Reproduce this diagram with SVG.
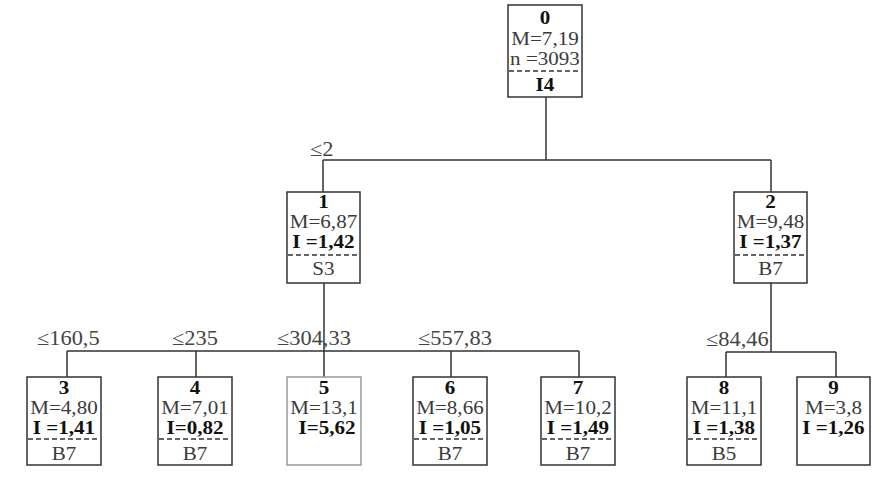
<svg xmlns="http://www.w3.org/2000/svg" width="883" height="480" viewBox="0 0 883 480">
<style>
.box{fill:#fff;stroke:#333;stroke-width:1.5}
.light{stroke:#999}
.dash{stroke:#333;stroke-width:1.3;stroke-dasharray:5,3}
.t{font-family:"Liberation Serif","Times New Roman",serif;font-size:18px;fill:#3a3a3a;text-anchor:middle;transform-box:fill-box;transform-origin:center;transform:scaleX(1.17)}
.b{font-weight:bold;fill:#111}
.lbl{font-family:"Liberation Serif","Times New Roman",serif;font-size:20px;fill:#444;transform-box:fill-box;transform-origin:left center;transform:scaleX(1.12)}
.c{stroke:#333;stroke-width:1.5;fill:none}
</style>
<rect width="883" height="480" fill="#fff"/>
<g id="connectors">
<path class="c" d="M546 97V160M323 160H771M323 160V192M771 160V192"/>
<path class="c" d="M324 283V351M67 351H579M67 351V377M196 351V377M324 351V377M451 351V377M579 351V377"/>
<path class="c" d="M771 283V352M726 352H836M726 352V377M836 352V377"/>
<text class="lbl" x="310" y="156">≤2</text>
<text class="lbl" x="37" y="345">≤160,5</text>
<text class="lbl" x="172" y="345">≤235</text>
<text class="lbl" x="277" y="345">≤304,33</text>
<text class="lbl" x="418" y="345">≤557,83</text>
<text class="lbl" x="706" y="346">≤84,46</text>
</g>
<g id="node0">
<rect class="box" x="508" y="5" width="74" height="92"/>
<line class="dash" x1="509" y1="71" x2="581" y2="71"/>
<text class="t b" x="545" y="24">0</text>
<text class="t" x="545" y="45">M=7,19</text>
<text class="t" x="545" y="65">n =3093</text>
<text class="t b" x="545" y="91">I4</text>
</g>
<g id="node1">
<rect class="box" x="287" y="192" width="73" height="91"/>
<line class="dash" x1="288" y1="255" x2="359" y2="255"/>
<text class="t b" x="323.5" y="208">1</text>
<text class="t" x="323.5" y="228">M=6,87</text>
<text class="t b" x="323.5" y="248">I =1,42</text>
<text class="t" x="323.5" y="275">S3</text>
</g>
<g id="node2">
<rect class="box" x="734" y="192" width="73" height="91"/>
<line class="dash" x1="735" y1="255" x2="806" y2="255"/>
<text class="t b" x="770.5" y="208">2</text>
<text class="t" x="770.5" y="228">M=9,48</text>
<text class="t b" x="770.5" y="248">I =1,37</text>
<text class="t" x="770.5" y="275">B7</text>
</g>
<g id="node3">
<rect class="box" x="27" y="377" width="74" height="88"/>
<line class="dash" x1="28" y1="439" x2="100" y2="439"/>
<text class="t b" x="64" y="394">3</text>
<text class="t" x="64" y="414">M=4,80</text>
<text class="t b" x="64" y="434">I =1,41</text>
<text class="t" x="64" y="460">B7</text>
</g>
<g id="node4">
<rect class="box" x="158" y="377" width="74" height="88"/>
<line class="dash" x1="159" y1="439" x2="231" y2="439"/>
<text class="t b" x="195" y="394">4</text>
<text class="t" x="195" y="414">M=7,01</text>
<text class="t b" x="195" y="434">I=0,82</text>
<text class="t" x="195" y="460">B7</text>
</g>
<g id="node5">
<rect class="box light" x="287" y="377" width="74" height="88"/>
<text class="t b" x="324" y="394">5</text>
<text class="t" x="324" y="414">M=13,1</text>
<text class="t b" x="327" y="434">I=5,62</text>
</g>
<g id="node6">
<rect class="box" x="413" y="377" width="74" height="88"/>
<line class="dash" x1="414" y1="439" x2="486" y2="439"/>
<text class="t b" x="450" y="394">6</text>
<text class="t" x="450" y="414">M=8,66</text>
<text class="t b" x="450" y="434">I =1,05</text>
<text class="t" x="450" y="460">B7</text>
</g>
<g id="node7">
<rect class="box" x="541" y="377" width="74" height="88"/>
<line class="dash" x1="542" y1="439" x2="614" y2="439"/>
<text class="t b" x="578" y="394">7</text>
<text class="t" x="578" y="414">M=10,2</text>
<text class="t b" x="578" y="434">I =1,49</text>
<text class="t" x="578" y="460">B7</text>
</g>
<g id="node8">
<rect class="box" x="687" y="377" width="74" height="88"/>
<line class="dash" x1="688" y1="439" x2="760" y2="439"/>
<text class="t b" x="724" y="394">8</text>
<text class="t" x="724" y="414">M=11,1</text>
<text class="t b" x="724" y="434">I =1,38</text>
<text class="t" x="724" y="460">B5</text>
</g>
<g id="node9">
<rect class="box" x="797" y="377" width="73" height="88"/>
<text class="t b" x="833.5" y="394">9</text>
<text class="t" x="833.5" y="414">M=3,8</text>
<text class="t b" x="833.5" y="434">I =1,26</text>
</g>
</svg>
